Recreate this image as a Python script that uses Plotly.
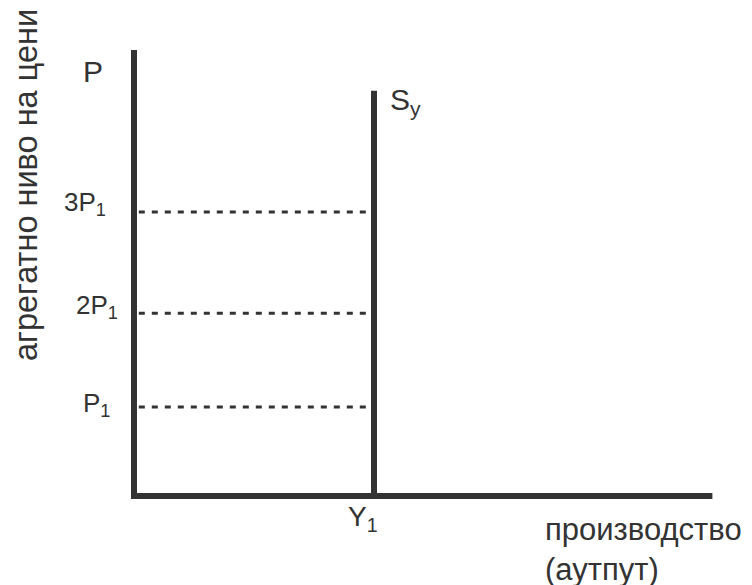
import plotly.graph_objects as go

# ---- data ----
# price axis in units such that the origin is 0 and 3P1 is 3
price_levels = [0.94, 1.93, 3.0]
price_labels = ["P<sub>1</sub>", "2P<sub>1</sub>", "3P<sub>1</sub>"]
price_axis_top = 4.71          # top of the P axis
output_y1 = 1.0                # Y1 position on the output axis
output_label = "Y<sub>1</sub>"
output_axis_end = 2.41         # right end of the output axis
supply_top = 4.28              # top of the vertical supply line Sy
supply_label = "S<sub>y</sub>"
price_axis_label = "P"
y_title = "агрегатно ниво на цени"
x_title = "производство<br>(аутпут)"

# ---- layout / style ----
W, H = 752, 585
ox, oy = 126, 488            # pixel position of origin inside the figure
sx, sy = 240.0, 94.67        # pixels per data unit
col = "#333333"
font = "Liberation Sans, Arial, sans-serif"

fig = go.Figure()

# axes (L shape)
fig.add_trace(go.Scatter(
    x=[0, 0, output_axis_end], y=[price_axis_top, 0, 0],
    mode="lines", line=dict(color=col, width=6), hoverinfo="skip"))

# vertical supply line
fig.add_trace(go.Scatter(
    x=[output_y1, output_y1], y=[0, supply_top],
    mode="lines", line=dict(color=col, width=6), hoverinfo="skip"))

# dotted price levels
for lvl in price_levels:
    fig.add_trace(go.Scatter(
        x=[0.02, output_y1], y=[lvl, lvl],
        mode="lines", line=dict(color=col, width=3, dash="6px,7px"),
        hoverinfo="skip"))

ann = []
label_shift = [(-22, 3), (-14, 7), (-26, 8)]
for lvl, lab, (dx, dy) in zip(price_levels, price_labels, label_shift):
    ann.append(dict(x=0, y=lvl, text=lab, showarrow=False, xanchor="right",
                    yanchor="middle", xshift=dx, yshift=dy,
                    font=dict(size=26, color=col, family=font)))
ann.append(dict(x=0, y=price_axis_top, text=price_axis_label, showarrow=False,
                xanchor="right", yanchor="middle", xshift=-29, yshift=-21,
                font=dict(size=30, color=col, family=font)))
ann.append(dict(x=output_y1, y=supply_top, text=supply_label, showarrow=False,
                xanchor="left", yanchor="middle", xshift=14, yshift=-11,
                font=dict(size=30, color=col, family=font)))
ann.append(dict(x=output_y1, y=0, text=output_label, showarrow=False,
                xanchor="center", yanchor="top", xshift=-11, yshift=-3,
                font=dict(size=28, color=col, family=font)))
ann.append(dict(xref="paper", yref="paper", x=535 / W, y=1 - 502 / H,
                text=x_title, showarrow=False,
                xanchor="left", yanchor="top", align="left",
                font=dict(size=31, color=col, family=font)))
ann.append(dict(xref="paper", yref="paper", x=18 / W, y=1 - 355 / H,
                text=y_title, textangle=-90, showarrow=False,
                xanchor="center", yanchor="bottom",
                font=dict(size=32.5, color=col, family=font)))

fig.update_layout(
    width=W, height=H, margin=dict(l=0, r=0, t=0, b=0),
    paper_bgcolor="white", plot_bgcolor="white", showlegend=False,
    xaxis=dict(range=[-ox / sx, (W - ox) / sx], visible=False, fixedrange=True),
    yaxis=dict(range=[-(H - oy) / sy, oy / sy], visible=False, fixedrange=True),
    annotations=ann,
)

fig.write_html("out.html")
